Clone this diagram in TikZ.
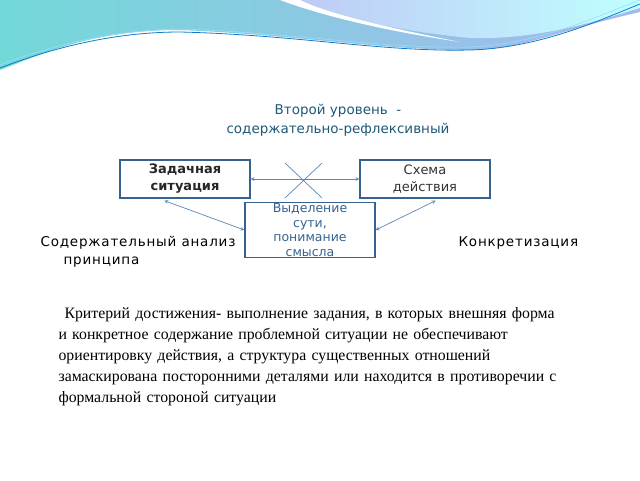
\documentclass[tikz,border=0pt]{standalone}
\usepackage{fontspec}
\setmainfont{Liberation Serif}
\newfontfamily\dejasans{DejaVu Sans}
\newfontfamily\dejaspaced[LetterSpace=6]{DejaVu Sans}
\definecolor{boxc}{HTML}{35628F}
\definecolor{linec}{HTML}{5A86B5}
\definecolor{titlec}{HTML}{1F5A78}
\begin{document}
\begin{tikzpicture}[x=1pt,y=-1pt,
  box/.style={draw=boxc, line width=1.3pt, fill=white, minimum width=130pt, align=center, inner sep=1pt, font=\dejasans\fontsize{13.5}{15}\selectfont},
  conn/.style={draw=linec, line width=0.7pt, <->, >=stealth}]
\useasboundingbox (0,0) rectangle (640,480);
\fill[white] (0,0) rectangle (640,480);
% waves
\shade[left color=cyan!45!teal!55, right color=teal!40!blue!35] (0,0) -- (640,0) -- (640,12) .. controls (560,30) and (520,50) .. (470,50) .. controls (380,50) and (300,35) .. (180,30) .. controls (90,30) and (40,55) .. (0,70) -- cycle;
\shade[left color=teal!30!blue!25, right color=cyan!25] (290,0) .. controls (330,15) and (390,30) .. (470,38) .. controls (540,40) and (600,20) .. (640,8) -- (640,0) -- cycle;
\fill[white] (280,0) .. controls (320,15) and (380,30) .. (460,42) .. controls (400,30) and (330,15) .. (300,0) -- cycle;
\draw[cyan!60!blue, line width=0.8pt] (0,68) .. controls (60,45) and (120,32) .. (180,32) .. controls (300,35) and (380,52) .. (470,50) .. controls (540,48) and (600,20) .. (640,4);
\draw[cyan!40, line width=0.6pt] (0,65) .. controls (60,42) and (120,30) .. (180,29) .. controls (300,33) and (380,49) .. (470,47) .. controls (540,44) and (600,15) .. (640,0);
% title
\node[font=\dejasans\fontsize{13.5}{19}\selectfont, text=titlec, align=center] (title) at (338,120) {Второй уровень \ -\\содержательно-рефлексивный};
% side texts
\node[anchor=base west, font=\dejaspaced\fontsize{13.5}{13}\selectfont] (lt1) at (37,246) {Содержательный анализ};
\node[anchor=base west, font=\dejaspaced\fontsize{13.5}{13}\selectfont] (lt2) at (60,264) {принципа};
\node[anchor=base west, font=\dejaspaced\fontsize{13.5}{13}\selectfont] (rt) at (455,246) {Конкретизация};
% boxes
\node[box, minimum height=38pt, font=\dejasans\bfseries\fontsize{13}{17}\selectfont, text=black!85] (a) at (185,179) {Задачная\\ситуация};
\node[box, minimum height=38pt, font=\dejasans\fontsize{13}{17}\selectfont, text=black!80] (b) at (425,179) {Схема\\действия};
\node[box, minimum height=50pt, font=\dejasans\fontsize{12.5}{14.5}\selectfont, text=boxc] (c) at (310,230) {Выделение\\сути,\\понимание\\смысла};
% connectors
\draw[conn] (a.east) -- (b.west);
\coordinate (x1) at (285,163); \coordinate (x2) at (322,198);
\coordinate (x3) at (322,163); \coordinate (x4) at (285,198);
\draw[draw=linec, line width=0.7pt] (x1) -- (x2) (x3) -- (x4);
\draw[conn] (a.south west) ++(45,2) coordinate (a1) -- (c.west);
\draw[conn] (b.south east) ++(-55,2) coordinate (b1) -- (c.east);
% paragraph
\node[anchor=north west, text width=525pt, align=left, font=\fontsize{15.8}{21}\selectfont] (p) at (55,304) {\hspace*{6pt}Критерий достижения- выполнение задания, в которых внешняя форма и конкретное содержание проблемной ситуации не обеспечивают ориентировку действия, а структура существенных отношений замаскирована посторонними деталями или находится в противоречии с формальной стороной ситуации};
\end{tikzpicture}
\end{document}
